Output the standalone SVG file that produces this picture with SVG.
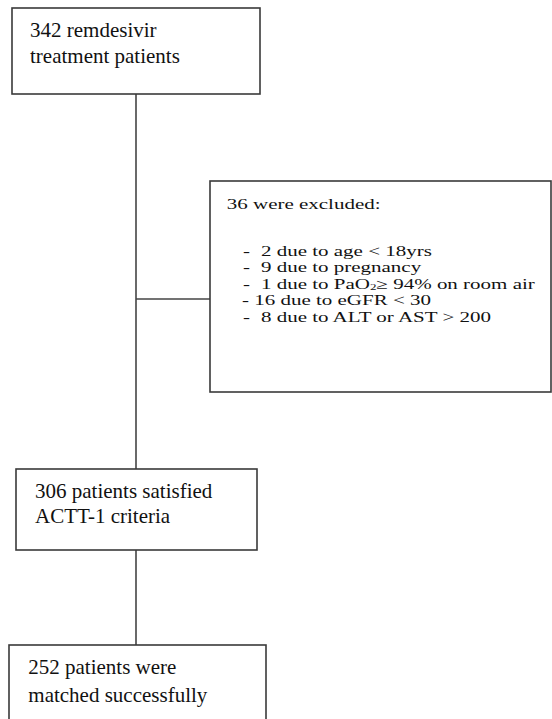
<svg xmlns="http://www.w3.org/2000/svg" width="552" height="719" viewBox="0 0 552 719">
<style>
.box{fill:#fff;stroke:#3a3a3a;stroke-width:1.6}
.t{font-family:"Liberation Serif","Times New Roman",serif;font-size:21px;fill:#111}
.s{font-family:"Liberation Serif","Times New Roman",serif;font-size:14.5px;fill:#111}
.c{stroke:#444;stroke-width:1.6;fill:none}
</style>
<rect width="552" height="719" fill="#fff"/>
<g id="connectors">
<line class="c" x1="136" y1="94" x2="136" y2="469"/>
<line class="c" x1="136" y1="299" x2="210" y2="299"/>
<line class="c" x1="136" y1="550" x2="136" y2="645"/>
</g>
<g id="n1">
<rect class="box" x="12" y="8" width="248" height="86"/>
<text class="t" x="30" y="36.7">342 remdesivir</text>
<text class="t" x="30" y="63.3">treatment patients</text>
</g>
<g id="n2">
<rect class="box" x="210" y="181" width="341" height="211"/>
<g transform="scale(1.448,1)">
<text class="s" x="156.6" y="209">36 were excluded:</text>
<text class="s" x="167.8" y="256">-<tspan x="180.2">2 due to age &lt; 18yrs</tspan></text>
<text class="s" x="167.8" y="272.5">-<tspan x="180.2">9 due to pregnancy</tspan></text>
<text class="s" x="167.8" y="289">-<tspan x="180.2">1 due to PaO</tspan><tspan font-size="9" dy="1.5">2</tspan><tspan dy="-1.5">≥ 94% on room air</tspan></text>
<text class="s" x="167.1" y="305.5">- 16 due to eGFR &lt; 30</text>
<text class="s" x="167.8" y="322">-<tspan x="180.2">8 due to ALT or AST &gt; 200</tspan></text>
</g>
</g>
<g id="n3">
<rect class="box" x="16" y="469" width="241" height="81"/>
<text class="t" x="35" y="497.7">306 patients satisfied</text>
<text class="t" x="35" y="523.3">ACTT-1 criteria</text>
</g>
<g id="n4">
<rect class="box" x="9" y="645" width="257" height="80"/>
<text class="t" x="28.3" y="674.3">252 patients were</text>
<text class="t" x="28.3" y="701.5">matched successfully</text>
</g>
</svg>
